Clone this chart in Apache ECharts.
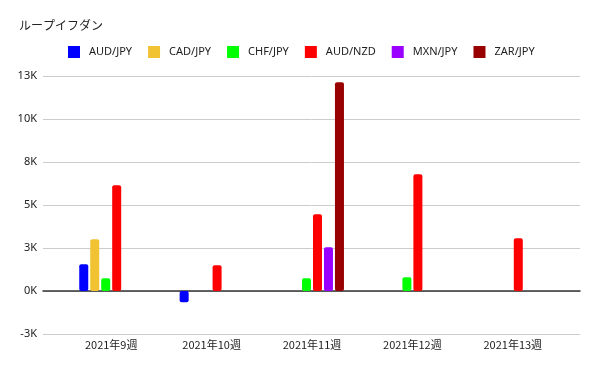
<!DOCTYPE html>
<html><head><meta charset="utf-8">
<script src="https://cdn.jsdelivr.net/npm/echarts@6/dist/echarts.min.js"></script>
<style>html,body{margin:0;padding:0;background:#fff}#c{width:600px;height:371px}</style>
</head><body><div id="c"></div>
<script>
const categories = ['2021年9週','2021年10週','2021年11週','2021年12週','2021年13週'];
const seriesNames = ['AUD/JPY','CAD/JPY','CHF/JPY','AUD/NZD','MXN/JPY','ZAR/JPY'];
const audJpy = [1550, -660, null, null, null];
const cadJpy = [3005, null, null, null, null];
const chfJpy = [740, null, 740, 795, null];
const audNzd = [6145, 1495, 4455, 6785, 3065];
const mxnJpy = [null, null, 2540, null, null];
const zarJpy = [null, null, 12130, null, null];
const yTicks = [-2500, 12500, 2500]; // min, max, interval
const colors = ['#0000ff','#f1c232','#00ff00','#ff0000','#9900ff','#990000'];
const allData = [audJpy, cadJpy, chfJpy, audNzd, mxnJpy, zarJpy];

const chart = echarts.init(document.getElementById('c'), null, {renderer:'canvas'});
const fmt = v => (v < 0 ? '-' : '') + Math.round(Math.abs(v)/1000) + 'K';
chart.setOption({
  animation: false,
  color: colors,
  title: { text: 'ループイフダン', left: 14, top: 14,
    textStyle: { fontFamily: 'Noto Sans CJK JP', fontSize: 12, fontWeight: 'normal', color: '#222' } },
  legend: { top: 41, left: 63, itemWidth: 12, itemHeight: 12, itemGap: 16, icon: 'rect',
    textStyle: { fontFamily: 'Noto Sans', fontSize: 11, color: '#222', padding: [0, 0, 0, 4] }, data: seriesNames },
  grid: [
    { left: 61, right: 37, top: 76, bottom: 37, containLabel: false, outerBoundsMode: 'none' },
    { left: 43, right: 20, top: 76, bottom: 37, containLabel: false, outerBoundsMode: 'none' }
  ],
  xAxis: [
    { gridIndex: 0, type: 'category', data: categories, axisLine: { show: false, onZero: false }, axisTick: { show: false },
      axisLabel: { fontFamily: 'Noto Sans CJK JP', fontSize: 11, color: '#222', margin: 5 } },
    { gridIndex: 1, type: 'category', data: categories, axisLine: { show: true, onZero: true, lineStyle: { color: '#333', width: 1.5 } },
      axisTick: { show: false }, axisLabel: { show: false } }
  ],
  yAxis: [
    { gridIndex: 0, type: 'value', min: yTicks[0], max: yTicks[1], interval: yTicks[2], show: false, splitLine: { show: false } },
    { gridIndex: 1, type: 'value', min: yTicks[0], max: yTicks[1], interval: yTicks[2],
      axisLine: { show: false }, axisTick: { show: false },
      splitLine: { lineStyle: { color: '#cccccc' } },
      axisLabel: { formatter: fmt, fontFamily: 'Noto Sans', fontSize: 11, color: '#222', margin: 6 } }
  ],
  series: seriesNames.map((n, i) => ({
    name: n, type: 'bar', xAxisIndex: 0, yAxisIndex: 0, data: allData[i],
    barWidth: 9, barGap: '22%',
    itemStyle: { color: colors[i], borderRadius: 2 }
  }))
});
</script></body></html>
